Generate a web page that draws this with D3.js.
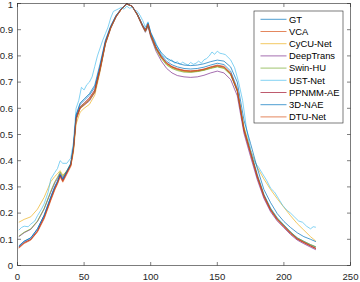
<!DOCTYPE html>
<html>
<head>
<meta charset="utf-8">
<script src="https://cdn.jsdelivr.net/npm/d3@7"></script>
<style>
  body { margin: 0; background: #fff; }
  svg { display: block; font-family: "Liberation Sans", Arial, sans-serif; }
  .tick-label { font-size: 9.6px; fill: #262626; }
  .legend-label { font-size: 9.4px; fill: #000; }
</style>
</head>
<body>
<div id="chart"></div>
<script>
// band index at which each value was read
const bands = [1,5,10,15,20,25,28,30,32,34,37,40,42,44,47,50,54,58,62,66,70,74,78,82,86,90,94,96,98,100,104,108,112,116,120,125,130,135,140,145,150,155,160,165,170,175,180,185,190,195,200,205,210,215,220,224];
// UST-Net is noisy, so it was read on a finer set of bands
const ustBands = [1,3,5,8,10,13,15,18,20,23,25,28,30,32,34,37,40,42,44,46,48,50,52,54,56,58,60,62,64,66,68,70,72,74,76,78,80,82,84,86,88,90,92,94,96,98,100,103,106,109,112,114,116,118,120,122,124,126,128,130,132,134,136,138,140,142,144,146,148,150,152,154,156,158,160,163,166,169,172,175,178,181,184,187,190,193,196,199,202,205,208,211,214,217,220,222,224];

const gt = [0.075,0.093,0.106,0.14,0.192,0.262,0.3,0.32,0.346,0.328,0.358,0.388,0.452,0.572,0.615,0.63,0.65,0.68,0.76,0.855,0.912,0.953,0.98,0.999,0.99,0.958,0.915,0.898,0.922,0.884,0.835,0.802,0.779,0.766,0.758,0.752,0.75,0.752,0.757,0.765,0.772,0.767,0.742,0.676,0.526,0.438,0.348,0.272,0.219,0.182,0.155,0.128,0.106,0.092,0.079,0.07];
const vca = [0.068,0.086,0.099,0.13,0.182,0.252,0.292,0.314,0.342,0.322,0.352,0.382,0.445,0.56,0.602,0.616,0.636,0.666,0.752,0.85,0.91,0.952,0.98,0.999,0.99,0.958,0.914,0.896,0.92,0.88,0.83,0.795,0.77,0.756,0.748,0.741,0.739,0.741,0.746,0.754,0.76,0.755,0.73,0.665,0.515,0.425,0.336,0.262,0.21,0.174,0.148,0.122,0.1,0.087,0.074,0.064];
const cycu = [0.165,0.176,0.186,0.215,0.26,0.32,0.34,0.35,0.362,0.345,0.36,0.38,0.43,0.54,0.585,0.6,0.615,0.65,0.74,0.845,0.905,0.95,0.978,0.998,0.99,0.956,0.912,0.894,0.917,0.878,0.827,0.792,0.768,0.755,0.747,0.741,0.74,0.742,0.747,0.754,0.76,0.754,0.73,0.67,0.53,0.44,0.375,0.33,0.29,0.255,0.222,0.19,0.16,0.135,0.11,0.093];
const deepTrans = [0.11,0.125,0.138,0.168,0.215,0.28,0.315,0.332,0.352,0.335,0.358,0.385,0.445,0.56,0.6,0.612,0.628,0.66,0.745,0.845,0.905,0.948,0.978,0.998,0.99,0.955,0.91,0.89,0.912,0.872,0.818,0.78,0.752,0.735,0.725,0.72,0.718,0.72,0.726,0.735,0.742,0.735,0.71,0.648,0.505,0.415,0.328,0.256,0.205,0.17,0.144,0.118,0.097,0.083,0.07,0.06];
const swinHU = [0.112,0.127,0.14,0.17,0.218,0.284,0.32,0.337,0.357,0.34,0.362,0.388,0.448,0.562,0.603,0.615,0.632,0.663,0.748,0.848,0.907,0.95,0.978,0.998,0.99,0.956,0.912,0.893,0.916,0.876,0.825,0.79,0.765,0.752,0.744,0.738,0.737,0.74,0.745,0.752,0.758,0.752,0.728,0.665,0.52,0.432,0.342,0.268,0.216,0.18,0.153,0.127,0.105,0.092,0.08,0.072];
const ustNet = [0.135,0.145,0.15,0.148,0.158,0.17,0.19,0.215,0.235,0.28,0.33,0.355,0.37,0.4,0.39,0.39,0.41,0.47,0.6,0.63,0.68,0.67,0.69,0.7,0.72,0.76,0.8,0.83,0.86,0.885,0.91,0.945,0.97,0.975,0.98,0.985,0.978,0.99,0.982,0.985,0.975,0.97,0.955,0.935,0.91,0.93,0.89,0.86,0.825,0.8,0.79,0.78,0.785,0.772,0.778,0.768,0.776,0.77,0.765,0.775,0.768,0.772,0.78,0.772,0.785,0.79,0.8,0.815,0.806,0.818,0.81,0.808,0.805,0.795,0.785,0.755,0.7,0.63,0.52,0.44,0.395,0.375,0.35,0.325,0.295,0.28,0.255,0.23,0.212,0.2,0.185,0.17,0.165,0.15,0.14,0.148,0.146];
const ppnmmAE = [0.07,0.088,0.1,0.133,0.185,0.255,0.295,0.316,0.344,0.324,0.354,0.384,0.448,0.565,0.606,0.62,0.64,0.67,0.755,0.852,0.91,0.952,0.98,0.999,0.99,0.958,0.914,0.896,0.92,0.88,0.83,0.796,0.772,0.758,0.75,0.744,0.742,0.744,0.749,0.757,0.763,0.758,0.733,0.668,0.518,0.43,0.34,0.266,0.213,0.177,0.15,0.124,0.102,0.088,0.075,0.065];
const nae3d = [0.073,0.092,0.105,0.14,0.192,0.262,0.302,0.322,0.348,0.33,0.36,0.39,0.455,0.575,0.62,0.636,0.656,0.688,0.77,0.86,0.915,0.955,0.98,0.998,0.99,0.96,0.918,0.902,0.926,0.89,0.843,0.812,0.792,0.78,0.772,0.765,0.763,0.765,0.77,0.778,0.784,0.78,0.758,0.7,0.555,0.465,0.372,0.29,0.24,0.198,0.168,0.145,0.125,0.11,0.1,0.091];
const dtuNet = [0.066,0.084,0.097,0.128,0.178,0.248,0.288,0.31,0.338,0.318,0.348,0.378,0.44,0.555,0.598,0.612,0.632,0.662,0.748,0.848,0.908,0.95,0.978,0.998,0.99,0.958,0.915,0.897,0.922,0.882,0.832,0.798,0.774,0.76,0.752,0.745,0.743,0.745,0.75,0.758,0.765,0.76,0.735,0.67,0.52,0.43,0.34,0.265,0.212,0.176,0.15,0.124,0.102,0.089,0.076,0.066];

const seriesNames = ['GT','VCA','CyCU-Net','DeepTrans','Swin-HU','UST-Net','PPNMM-AE','3D-NAE','DTU-Net'];
const seriesValues = [gt, vca, cycu, deepTrans, swinHU, ustNet, ppnmmAE, nae3d, dtuNet];
const seriesBands = [bands, bands, bands, bands, bands, ustBands, bands, bands, bands];
const seriesColors = ['#0072BD','#D95319','#EDB120','#7E2F8E','#77AC30','#4DBEEE','#A2142F','#0072BD','#D95319'];

const xTicks = [0, 50, 100, 150, 200, 250];
const yTicks = [0, 0.1, 0.2, 0.3, 0.4, 0.5, 0.6, 0.7, 0.8, 0.9, 1];

const width = 360, height = 282;
const margin = {top: 3.5, right: 9.5, bottom: 16.5, left: 17.5};
const innerW = width - margin.left - margin.right;
const innerH = height - margin.top - margin.bottom;

const svg = d3.select('#chart').append('svg')
    .attr('width', width)
    .attr('height', height);

const g = svg.append('g')
    .attr('transform', `translate(${margin.left},${margin.top})`);

const x = d3.scaleLinear().domain([0, 250]).range([0, innerW]);
const y = d3.scaleLinear().domain([0, 1]).range([innerH, 0]);

// curves, drawn in legend order so the last one sits on top
const line = d3.line()
    .x(d => x(d[0]))
    .y(d => y(d[1]));

g.selectAll('.spectrum')
    .data(seriesValues)
  .join('path')
    .attr('class', 'spectrum')
    .attr('fill', 'none')
    .attr('stroke', (d, i) => seriesColors[i])
    .attr('stroke-width', 0.7)
    .attr('d', (d, i) => line(d.map((v, j) => [seriesBands[i][j], v])));

// MATLAB-like box axes with inward ticks
const axisColor = '#262626';
const tickLen = 3.5;

g.append('rect')
    .attr('width', innerW)
    .attr('height', innerH)
    .attr('fill', 'none')
    .attr('stroke', axisColor)
    .attr('stroke-width', 0.6);

xTicks.forEach(t => {
  g.append('line').attr('x1', x(t)).attr('x2', x(t)).attr('y1', innerH).attr('y2', innerH - tickLen)
      .attr('stroke', axisColor).attr('stroke-width', 0.6);
  g.append('line').attr('x1', x(t)).attr('x2', x(t)).attr('y1', 0).attr('y2', tickLen)
      .attr('stroke', axisColor).attr('stroke-width', 0.6);
  g.append('text')
      .attr('class', 'tick-label')
      .attr('x', x(t))
      .attr('y', innerH + 11.5)
      .attr('dy', '0.35em')
      .attr('text-anchor', 'middle')
      .text(t);
});

yTicks.forEach(t => {
  g.append('line').attr('x1', 0).attr('x2', tickLen).attr('y1', y(t)).attr('y2', y(t))
      .attr('stroke', axisColor).attr('stroke-width', 0.6);
  g.append('line').attr('x1', innerW).attr('x2', innerW - tickLen).attr('y1', y(t)).attr('y2', y(t))
      .attr('stroke', axisColor).attr('stroke-width', 0.6);
  g.append('text')
      .attr('class', 'tick-label')
      .attr('x', -4.5)
      .attr('y', Math.max(y(t), 0.8))
      .attr('dy', '0.35em')
      .attr('text-anchor', 'end')
      .text(t);
});

// legend
const legend = svg.append('g')
    .attr('transform', 'translate(254,11)');

legend.append('rect')
    .attr('width', 89)
    .attr('height', 112)
    .attr('fill', '#fff')
    .attr('stroke', axisColor)
    .attr('stroke-width', 0.6);

const rowH = 12.2;
const entries = legend.selectAll('.legend-entry')
    .data(seriesNames)
  .join('g')
    .attr('class', 'legend-entry')
    .attr('transform', (d, i) => `translate(0,${8.3 + i * rowH})`);

entries.append('line')
    .attr('x1', 6.5)
    .attr('x2', 32.5)
    .attr('stroke', (d, i) => seriesColors[i])
    .attr('stroke-width', 0.7);

entries.append('text')
    .attr('class', 'legend-label')
    .attr('x', 35)
    .attr('dy', '0.35em')
    .text(d => d);
</script>
</body>
</html>
